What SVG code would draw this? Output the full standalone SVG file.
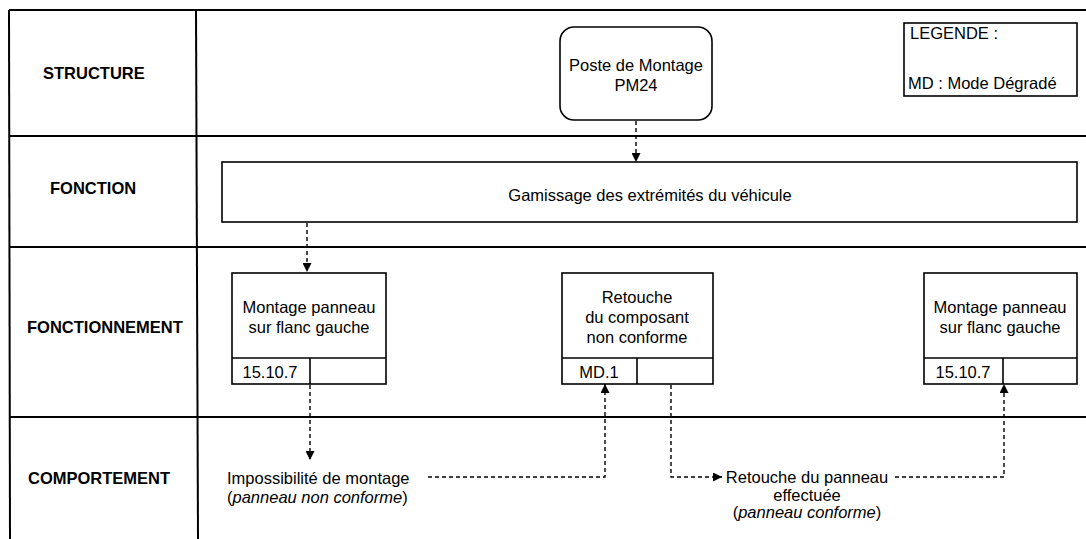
<svg xmlns="http://www.w3.org/2000/svg" width="1086" height="539" viewBox="0 0 1086 539">
<style>
text{font-family:"Liberation Sans",Arial,sans-serif;font-size:16.5px;fill:#000}
.lbl{font-weight:bold;font-size:16.5px}
.c{text-anchor:middle}
.frame{stroke:#000;stroke-width:2;fill:none}
.box{stroke:#000;stroke-width:1.6;fill:#fff}
.dash{stroke:#000;stroke-width:1.4;fill:none;stroke-dasharray:4 3}
</style>
<defs>
<marker id="ah" viewBox="0 0 10 10" refX="10" refY="5" markerWidth="10" markerHeight="9" markerUnits="userSpaceOnUse" orient="auto">
<path d="M0,0 L10,5 L0,10 Z" fill="#000"/>
</marker>
</defs>
<rect width="1086" height="539" fill="#fff"/>
<g id="grid">
<line class="frame" x1="9" y1="10" x2="1086" y2="10"/>
<line class="frame" x1="9" y1="10" x2="10" y2="539"/>
<line class="frame" x1="196" y1="10" x2="198" y2="539"/>
<line class="frame" x1="9" y1="136" x2="1086" y2="136"/>
<line class="frame" x1="9" y1="247" x2="1086" y2="247"/>
<line class="frame" x1="10" y1="417" x2="1086" y2="417"/>
<text class="lbl" x="43" y="79">STRUCTURE</text>
<text class="lbl" x="50" y="194">FONCTION</text>
<text class="lbl" x="27" y="333">FONCTIONNEMENT</text>
<text class="lbl" x="28" y="484">COMPORTEMENT</text>
</g>
<g id="legende">
<rect class="box" x="904" y="23" width="173" height="73"/>
<text x="910" y="39">LEGENDE :</text>
<text x="908" y="89">MD : Mode Dégradé</text>
</g>
<g id="poste">
<rect class="box" x="560" y="27" width="152" height="93" rx="14"/>
<text class="c" x="636" y="71">Poste de Montage</text>
<text class="c" x="636" y="91">PM24</text>
</g>
<g id="fonction">
<rect class="box" x="222" y="162" width="855" height="60"/>
<text class="c" x="650" y="201">Gamissage des extrémités du véhicule</text>
</g>
<g id="montage1">
<rect class="box" x="232" y="273" width="154" height="111"/>
<line class="box" x1="232" y1="358" x2="386" y2="358"/>
<line class="box" x1="310" y1="358" x2="310" y2="384"/>
<text class="c" x="309" y="313">Montage panneau</text>
<text class="c" x="309" y="333">sur flanc gauche</text>
<text class="c" x="270" y="378">15.10.7</text>
</g>
<g id="retouche">
<rect class="box" x="562" y="273" width="151" height="111"/>
<line class="box" x1="562" y1="358" x2="713" y2="358"/>
<line class="box" x1="637" y1="358" x2="637" y2="384"/>
<text class="c" x="637" y="303">Retouche</text>
<text class="c" x="637" y="323">du composant</text>
<text class="c" x="637" y="343">non conforme</text>
<text class="c" x="599" y="378">MD.1</text>
</g>
<g id="montage2">
<rect class="box" x="924" y="273" width="153" height="111"/>
<line class="box" x1="924" y1="358" x2="1077" y2="358"/>
<line class="box" x1="1003" y1="358" x2="1003" y2="384"/>
<text class="c" x="1000" y="313">Montage panneau</text>
<text class="c" x="1000" y="333">sur flanc gauche</text>
<text class="c" x="963" y="378">15.10.7</text>
</g>
<g id="impossibilite">
<text x="227" y="484">Impossibilité de montage</text>
<text x="227" y="503">(<tspan font-style="italic">panneau non conforme</tspan>)</text>
</g>
<g id="retouche-effectuee">
<text class="c" x="807" y="483">Retouche du panneau</text>
<text class="c" x="807" y="501">effectuée</text>
<text class="c" x="807" y="518">(<tspan font-style="italic">panneau conforme</tspan>)</text>
</g>
<g id="connectors">
<path class="dash" d="M636,121 L636,162" marker-end="url(#ah)"/>
<path class="dash" d="M307,223 L307,272" marker-end="url(#ah)"/>
<path class="dash" d="M310,385 L310,460" marker-end="url(#ah)"/>
<path class="dash" d="M428,477 L605,477 L605,384" marker-end="url(#ah)"/>
<path class="dash" d="M671,385 L671,477 L722,477" marker-end="url(#ah)"/>
<path class="dash" d="M895,477 L1004,477 L1004,384" marker-end="url(#ah)"/>
</g>
</svg>
